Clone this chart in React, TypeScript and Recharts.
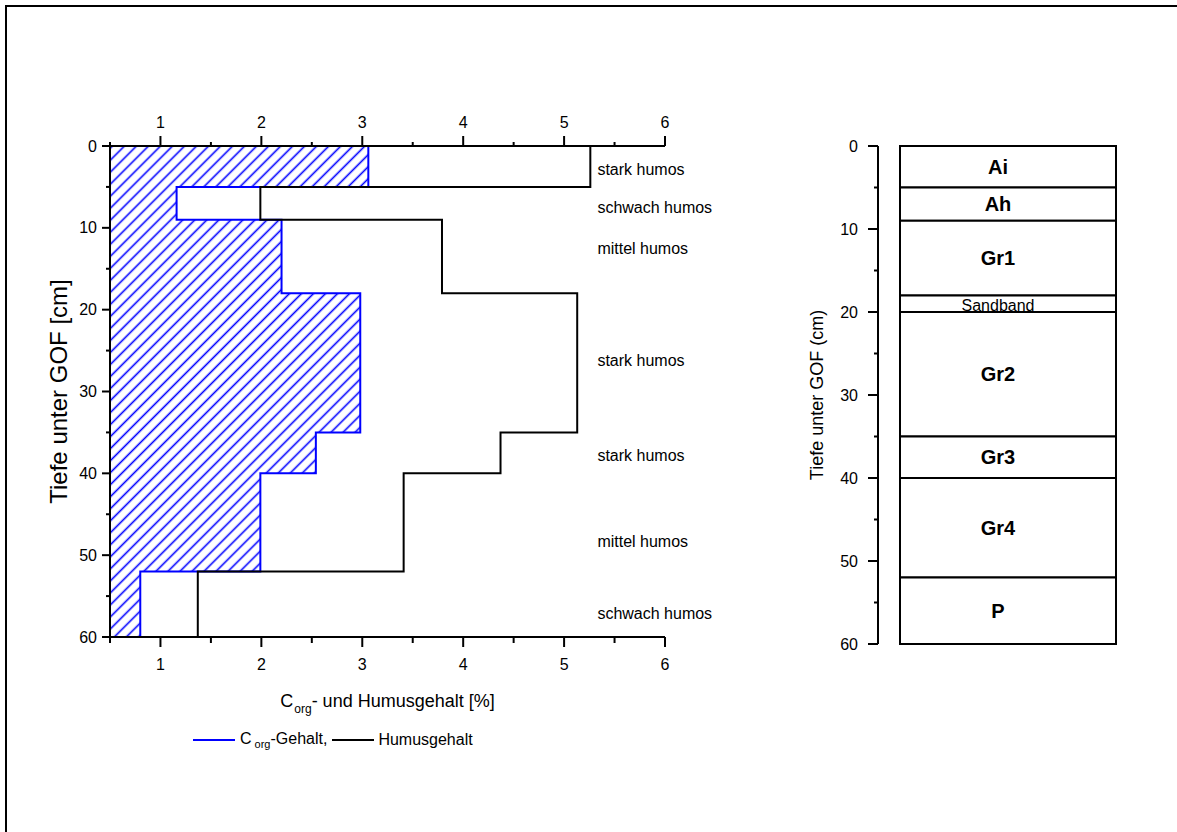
import React from "react";
import {
  ComposedChart,
  BarChart,
  Bar,
  Area,
  Line,
  XAxis,
  YAxis,
  ReferenceDot,
  LabelList,
  Legend,
} from "recharts";

// Tiefenstufen (cm) und Gehalte je Stufe
const depthBounds = [0, 5, 9, 18, 35, 40, 52, 60];
const corgValues = [3.06, 1.16, 2.2, 2.98, 2.54, 1.99, 0.8];
const humusValues = [5.26, 1.99, 3.79, 5.13, 4.37, 3.41, 1.37];

// Humusklassen rechts neben dem Profil
const humusClassLabels = ["stark humos", "schwach humos", "mittel humos", "stark humos", "stark humos", "mittel humos", "schwach humos"];
const humusClassDepths = [2.9, 7.5, 12.5, 26.2, 37.8, 48.3, 57.1];
const humusClassX = 5.33;

// Horizonte
const horizonNames = ["Ai", "Ah", "Gr1", "Sandband", "Gr2", "Gr3", "Gr4", "P"];
const horizonBounds = [0, 5, 9, 18, 20, 35, 40, 52, 60];

const xTicks = [0.5, 1, 1.5, 2, 2.5, 3, 3.5, 4, 4.5, 5, 5.5, 6];
const depthTicks = [0, 5, 10, 15, 20, 25, 30, 35, 40, 45, 50, 55, 60];

const BLUE = "#0000ff";
const FONT = "'Liberation Sans', Arial, Helvetica, sans-serif";

// step outline: each layer gives a top and a bottom point
const profileRows = depthBounds.slice(0, -1).flatMap((top, i) => [
  { depth: top, corg: corgValues[i], humus: humusValues[i] },
  { depth: depthBounds[i + 1], corg: corgValues[i], humus: humusValues[i] },
]);

const horizonRow: Record<string, number | string> = { profile: "P1" };
horizonNames.forEach((n, i) => {
  horizonRow[n] = horizonBounds[i + 1] - horizonBounds[i];
});

const xTick = (side: "top" | "bottom") => (props: any) => {
  const { x, y, payload } = props;
  const major = Number.isInteger(payload.value);
  const dir = side === "top" ? -1 : 1;
  const len = major ? 10 : side === "top" ? 4 : 6;
  return (
    <g>
      <line x1={x} y1={y} x2={x} y2={y + dir * len} stroke="#000" strokeWidth={2} />
      {major && (
        <text x={x} y={side === "top" ? y - 18 : y + 33} textAnchor="middle" fontSize={16} fill="#000">
          {payload.value}
        </text>
      )}
    </g>
  );
};

const yTick = (majorLen: number, labelGap: number) => (props: any) => {
  const { x, y, payload } = props;
  const major = payload.value % 10 === 0;
  return (
    <g>
      <line x1={x} y1={y} x2={x - (major ? majorLen : 4)} y2={y} stroke="#000" strokeWidth={2} />
      {major && (
        <text x={x - labelGap} y={y + 5.5} textAnchor="end" fontSize={16} fill="#000">
          {payload.value}
        </text>
      )}
    </g>
  );
};

const leftTitle = (p: any) => {
  const vb = p.viewBox;
  const cx = vb.x + 8;
  const cy = vb.y + vb.height / 2;
  return (
    <text x={cx} y={cy} transform={`rotate(-90, ${cx}, ${cy})`} textAnchor="middle" dominantBaseline="central" fontSize={24} fill="#000">
      Tiefe unter GOF [cm]
    </text>
  );
};

const rightTitle = (p: any) => {
  const vb = p.viewBox;
  const cx = vb.x - 1;
  const cy = vb.y + vb.height / 2;
  return (
    <text x={cx} y={cy} transform={`rotate(-90, ${cx}, ${cy})`} textAnchor="middle" dominantBaseline="central" fontSize={18} fill="#000">
      Tiefe unter GOF (cm)
    </text>
  );
};

const bottomTitle = (p: any) => {
  const vb = p.viewBox;
  return (
    <text x={vb.x + vb.width / 2} y={vb.y + 70} textAnchor="middle" fontSize={18} fill="#000">
      <tspan>C</tspan>
      <tspan dx={1} dy={6} fontSize={12}>org</tspan>
      <tspan dy={-6}>- und Humusgehalt [%]</tspan>
    </text>
  );
};

const renderLegend = () => (
  <div style={{ display: "flex", alignItems: "center", fontSize: 16, color: "#000", height: 24, whiteSpace: "nowrap" }}>
    <span style={{ display: "inline-block", width: 42, borderTop: `2px solid ${BLUE}`, marginRight: 5 }} />
    <span>
      C<sub style={{ fontSize: 11, marginLeft: 3 }}>org</sub>-Gehalt,
    </span>
    <span style={{ display: "inline-block", width: 42, borderTop: "2px solid #000", marginLeft: 5, marginRight: 4 }} />
    <span>Humusgehalt</span>
  </div>
);

const horizonLabel = (name: string) => (p: any) => {
  const { x, y, width, height } = p;
  const cx = x + width / 2 - 10;
  if (name === "Sandband") {
    const bottom = Math.max(y, y + height);
    return (
      <text x={cx} y={bottom - 1.5} textAnchor="middle" fontSize={16} fill="#000">
        {name}
      </text>
    );
  }
  return (
    <text x={cx} y={y + height / 2 + 7} textAnchor="middle" fontSize={20} fontWeight="bold" fill="#000">
      {name}
    </text>
  );
};

export default function App() {
  return (
    <div style={{ position: "absolute", left: 0, top: 0, width: 1177, height: 832, background: "#fff", fontFamily: FONT, overflow: "hidden" }}>
      <div style={{ position: "absolute", left: 5, top: 5, width: 1172, height: 827, borderTop: "2px solid #000", borderLeft: "2px solid #000", boxSizing: "border-box" }} />

      <div style={{ position: "absolute", left: 0, top: 0 }}>
        <ComposedChart layout="vertical" width={740} height={832} data={profileRows} margin={{ top: 116, right: 75, bottom: 165, left: 50 }}>
          <defs>
            <pattern id="hatch" patternUnits="userSpaceOnUse" width={8.5} height={8.5} patternTransform="rotate(45)">
              <line x1={4.25} y1={-1} x2={4.25} y2={9.5} stroke={BLUE} strokeWidth={1.6} />
            </pattern>
          </defs>
          <XAxis
            xAxisId="top"
            orientation="top"
            type="number"
            domain={[0.5, 6]}
            allowDataOverflow
            ticks={xTicks}
            interval={0}
            height={30}
            axisLine={{ stroke: "#000", strokeWidth: 2 }}
            tickLine={false}
            tickSize={0}
            tickMargin={0}
            tick={xTick("top")}
          />
          <XAxis
            xAxisId="bottom"
            orientation="bottom"
            type="number"
            domain={[0.5, 6]}
            allowDataOverflow
            ticks={xTicks}
            interval={0}
            height={30}
            axisLine={{ stroke: "#000", strokeWidth: 2 }}
            tickLine={false}
            tickSize={0}
            tickMargin={0}
            tick={xTick("bottom")}
            label={bottomTitle}
          />
          <YAxis
            type="number"
            dataKey="depth"
            domain={[0, 60]}
            ticks={depthTicks}
            interval={0}
            width={60}
            axisLine={{ stroke: "#000", strokeWidth: 2 }}
            tickLine={false}
            tickSize={0}
            tickMargin={0}
            tick={yTick(8, 13)}
            label={leftTitle}
          />
          <Area
            xAxisId="bottom"
            type="linear"
            dataKey="corg"
            name="Corg-Gehalt,"
            stroke={BLUE}
            strokeWidth={2}
            fill="url(#hatch)"
            fillOpacity={1}
            dot={false}
            activeDot={false}
            isAnimationActive={false}
          />
          <Line
            xAxisId="top"
            type="linear"
            dataKey="humus"
            name="Humusgehalt"
            stroke="#000"
            strokeWidth={2}
            dot={false}
            activeDot={false}
            isAnimationActive={false}
          />
          {humusClassLabels.map((t, i) => (
            <ReferenceDot
              key={i}
              xAxisId="bottom"
              x={humusClassX}
              y={humusClassDepths[i]}
              r={0}
              shape={(p: any) => (
                <text x={p.cx} y={p.cy + 5.5} fontSize={16} fill="#000">
                  {t}
                </text>
              )}
            />
          ))}
          <Legend
            layout="horizontal"
            verticalAlign="middle"
            align="center"
            content={renderLegend}
            wrapperStyle={{ left: 193, top: 728, width: "auto" }}
          />
        </ComposedChart>
      </div>

      <div style={{ position: "absolute", left: 740, top: 0 }}>
        <BarChart width={437} height={832} data={[horizonRow]} margin={{ top: 146, right: 39, bottom: 188, left: 78 }} barCategoryGap={0} barGap={0}>
          <XAxis dataKey="profile" hide />
          <YAxis
            type="number"
            reversed
            domain={[0, 60]}
            ticks={depthTicks}
            interval={0}
            width={60}
            axisLine={{ stroke: "#000", strokeWidth: 2 }}
            tickLine={false}
            tickSize={0}
            tickMargin={0}
            tick={yTick(10, 20)}
            label={rightTitle}
          />
          {horizonNames.map((n) => (
            <Bar key={n} dataKey={n} stackId="h" fill="#fff" stroke="#000" strokeWidth={2} barSize={216} isAnimationActive={false}>
              <LabelList dataKey={n} content={horizonLabel(n)} />
            </Bar>
          ))}
        </BarChart>
      </div>
    </div>
  );
}
